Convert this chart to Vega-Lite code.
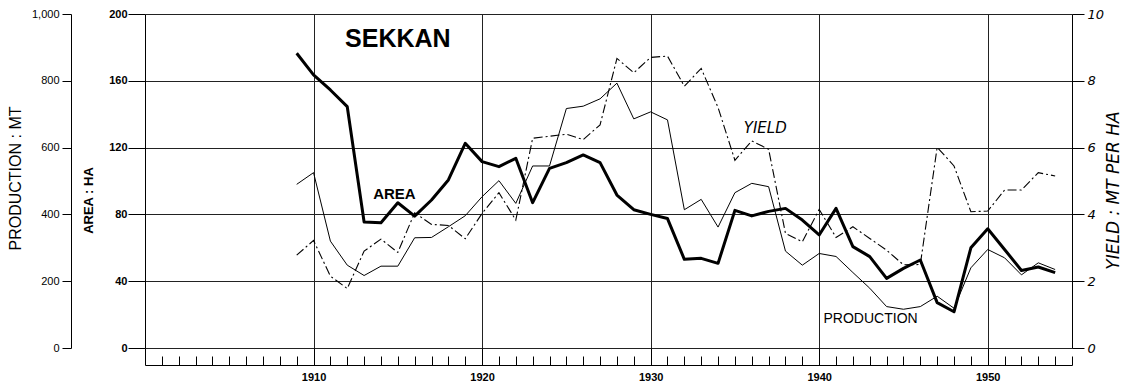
{
  "$schema": "https://vega.github.io/schema/vega-lite/v6.json",
  "width": 927,
  "height": 334,
  "autosize": "none",
  "padding": {"left": 145, "top": 14, "right": 58, "bottom": 35},
  "background": "white",
  "config": {
    "view": {"stroke": null},
    "font": "Liberation Sans",
    "axis": {
      "domainColor": "black",
      "tickColor": "black",
      "labelColor": "black",
      "titleColor": "black",
      "gridColor": "#222222",
      "labelFont": "Liberation Sans",
      "titleFont": "Liberation Sans"
    }
  },
  "datasets": {
    "sekkan": [
      {"year": 1909, "area": 176.5, "production": 490, "yield": 2.78},
      {"year": 1910, "area": 163.5, "production": 525, "yield": 3.22},
      {"year": 1911, "area": 154.5, "production": 320, "yield": 2.15},
      {"year": 1912, "area": 144.5, "production": 248, "yield": 1.78},
      {"year": 1913, "area": 75.5, "production": 217, "yield": 2.9},
      {"year": 1914, "area": 75, "production": 245, "yield": 3.26},
      {"year": 1915, "area": 87, "production": 245, "yield": 2.86},
      {"year": 1916, "area": 79, "production": 330, "yield": 4.05},
      {"year": 1917, "area": 88.6, "production": 331, "yield": 3.7},
      {"year": 1918, "area": 100.6, "production": 363, "yield": 3.67},
      {"year": 1919, "area": 122.6, "production": 396, "yield": 3.27},
      {"year": 1920, "area": 111.6, "production": 453, "yield": 4.03},
      {"year": 1921, "area": 108.6, "production": 501, "yield": 4.65},
      {"year": 1922, "area": 113.6, "production": 433, "yield": 3.83},
      {"year": 1923, "area": 87, "production": 545, "yield": 6.28},
      {"year": 1924, "area": 107.6, "production": 545, "yield": 6.34},
      {"year": 1925, "area": 111, "production": 717, "yield": 6.4},
      {"year": 1926, "area": 115.6, "production": 724, "yield": 6.24},
      {"year": 1927, "area": 111, "production": 746, "yield": 6.68},
      {"year": 1928, "area": 91.6, "production": 793, "yield": 8.67},
      {"year": 1929, "area": 82.8, "production": 686, "yield": 8.24},
      {"year": 1930, "area": 80, "production": 707, "yield": 8.7},
      {"year": 1931, "area": 77.5, "production": 683, "yield": 8.74},
      {"year": 1932, "area": 53.1, "production": 414, "yield": 7.84},
      {"year": 1933, "area": 53.7, "production": 445, "yield": 8.37},
      {"year": 1934, "area": 50.7, "production": 362, "yield": 7.2},
      {"year": 1935, "area": 82.4, "production": 465, "yield": 5.62},
      {"year": 1936, "area": 79.1, "production": 493, "yield": 6.2},
      {"year": 1937, "area": 81.8, "production": 483, "yield": 5.95},
      {"year": 1938, "area": 83.6, "production": 290, "yield": 3.43},
      {"year": 1939, "area": 76.6, "production": 248, "yield": 3.18},
      {"year": 1940, "area": 67.7, "production": 283, "yield": 4.15},
      {"year": 1941, "area": 83.6, "production": 274, "yield": 3.31},
      {"year": 1942, "area": 60.7, "production": 226, "yield": 3.63},
      {"year": 1943, "area": 54.7, "production": 179, "yield": 3.28},
      {"year": 1944, "area": 41.7, "production": 124, "yield": 2.93},
      {"year": 1945, "area": 47.7, "production": 116, "yield": 2.49},
      {"year": 1946, "area": 52.7, "production": 124, "yield": 2.5},
      {"year": 1947, "area": 27.2, "production": 155, "yield": 6.01},
      {"year": 1948, "area": 21.7, "production": 119, "yield": 5.45},
      {"year": 1949, "area": 60, "production": 240, "yield": 4.08},
      {"year": 1950, "area": 71.4, "production": 295, "yield": 4.1},
      {"year": 1951, "area": 59, "production": 270, "yield": 4.73},
      {"year": 1952, "area": 46.4, "production": 219, "yield": 4.73},
      {"year": 1953, "area": 48.5, "production": 255, "yield": 5.25},
      {"year": 1954, "area": 45.1, "production": 235, "yield": 5.15}
    ]
  },
  "layer": [
    {
      "data": {"name": "sekkan"},
      "mark": {"type": "line", "color": "black", "strokeWidth": 3, "strokeJoin": "round"},
      "encoding": {
        "x": {
          "field": "year", "type": "quantitative",
          "scale": {"domain": [1900, 1955], "nice": false, "zero": false},
          "axis": {
            "orient": "bottom",
            "offset": 17,
            "title": null,
            "tickCount": 100,
            "values": [1900,1901,1902,1903,1904,1905,1906,1907,1908,1909,1910,1911,1912,1913,1914,1915,1916,1917,1918,1919,1920,1921,1922,1923,1924,1925,1926,1927,1928,1929,1930,1931,1932,1933,1934,1935,1936,1937,1938,1939,1940,1941,1942,1943,1944,1945,1946,1947,1948,1949,1950,1951,1952,1953,1954,1955],
            "labelExpr": "datum.value % 10 === 0 && datum.value > 1900 ? '' + datum.value : ''",
            "labelOverlap": false,
            "labelFlush": false,
            "labelFontWeight": "bold",
            "labelFontSize": 11,
            "labelPadding": 23,
            "tickSize": {"condition": {"test": "datum.value % 10 === 0", "value": -17}, "value": -9},
            "tickWidth": 1,
            "domainWidth": 1,
            "grid": true,
            "gridWidth": 1,
            "gridOpacity": {"condition": {"test": "datum.value % 10 === 0 && datum.value > 1900", "value": 1}, "value": 0}
          }
        },
        "y": {
          "field": "area", "type": "quantitative",
          "scale": {"domain": [0, 200], "nice": false},
          "axis": {
            "orient": "left",
            "values": [0, 40, 80, 120, 160, 200],
            "format": ".0f",
            "tickSize": 17,
            "labelPadding": 1,
            "labelFontWeight": "bold",
            "labelFontSize": 11,
            "grid": true,
            "gridWidth": 1,
            "title": "AREA : HA",
            "titleFontWeight": "bold",
            "titleFontSize": 13,
            "titleX": -57,
            "titleY": 186,
            "titleBaseline": "middle",
            "titleAngle": 270
          }
        }
      }
    },
    {
      "data": {"name": "sekkan"},
      "mark": {"type": "line", "color": "black", "strokeWidth": 1},
      "encoding": {
        "x": {"field": "year", "type": "quantitative", "scale": {"domain": [1900, 1955], "nice": false, "zero": false}},
        "y": {
          "field": "production", "type": "quantitative",
          "scale": {"domain": [0, 1000], "nice": false},
          "axis": {
            "orient": "left",
            "offset": 74,
            "values": [0, 200, 400, 600, 800, 1000],
            "format": ",.0f",
            "tickSize": 9,
            "labelPadding": 3,
            "labelFontSize": 11,
            "grid": false,
            "title": "PRODUCTION : MT",
            "titleFontWeight": "normal",
            "titleFontSize": 16,
            "titleX": -56,
            "titleY": 164,
            "titleBaseline": "middle",
            "titleAngle": 270
          }
        }
      }
    },
    {
      "data": {"name": "sekkan"},
      "mark": {"type": "line", "color": "black", "strokeWidth": 1.1, "strokeDash": [9, 3, 2, 3]},
      "encoding": {
        "x": {"field": "year", "type": "quantitative", "scale": {"domain": [1900, 1955], "nice": false, "zero": false}},
        "y": {
          "field": "yield", "type": "quantitative",
          "scale": {"domain": [0, 10], "nice": false},
          "axis": {
            "orient": "right",
            "values": [0, 2, 4, 6, 8, 10],
            "format": ".0f",
            "tickSize": 12,
            "labelPadding": 3,
            "labelFontSize": 13,
            "labelFontStyle": "italic",
            "labelFont": "DejaVu Sans",
            "grid": false,
            "title": "YIELD : MT PER HA",
            "titleFont": "DejaVu Sans",
            "titleFontStyle": "italic",
            "titleFontWeight": "normal",
            "titleFontSize": 17,
            "titleX": 41,
            "titleY": 176,
            "titleBaseline": "middle",
            "titleAngle": 270
          }
        }
      }
    },
    {
      "data": {"values": [{"label": "SEKKAN", "year": 1915, "v": 185}]},
      "mark": {"type": "text", "font": "Liberation Sans", "fontWeight": "bold", "fontSize": 25, "color": "black", "align": "center", "baseline": "middle"},
      "encoding": {
        "x": {"field": "year", "type": "quantitative", "scale": {"domain": [1900, 1955], "nice": false, "zero": false}},
        "y": {"field": "v", "type": "quantitative", "scale": {"domain": [0, 200], "nice": false}, "axis": null},
        "text": {"field": "label"}
      }
    },
    {
      "data": {"values": [{"label": "AREA", "year": 1914.8, "v": 92.5}]},
      "mark": {"type": "text", "font": "Liberation Sans", "fontWeight": "bold", "fontSize": 15, "color": "black", "align": "center", "baseline": "middle"},
      "encoding": {
        "x": {"field": "year", "type": "quantitative", "scale": {"domain": [1900, 1955], "nice": false, "zero": false}},
        "y": {"field": "v", "type": "quantitative", "scale": {"domain": [0, 200], "nice": false}, "axis": null},
        "text": {"field": "label"}
      }
    },
    {
      "data": {"values": [{"label": "YIELD", "year": 1936.8, "v": 131.7}]},
      "mark": {"type": "text", "font": "DejaVu Sans", "fontStyle": "italic", "fontSize": 15, "color": "black", "align": "center", "baseline": "middle"},
      "encoding": {
        "x": {"field": "year", "type": "quantitative", "scale": {"domain": [1900, 1955], "nice": false, "zero": false}},
        "y": {"field": "v", "type": "quantitative", "scale": {"domain": [0, 200], "nice": false}, "axis": null},
        "text": {"field": "label"}
      }
    },
    {
      "data": {"values": [{"label": "PRODUCTION", "year": 1943.05, "v": 17.4}]},
      "mark": {"type": "text", "font": "Liberation Sans", "fontSize": 14, "color": "black", "align": "center", "baseline": "middle"},
      "encoding": {
        "x": {"field": "year", "type": "quantitative", "scale": {"domain": [1900, 1955], "nice": false, "zero": false}},
        "y": {"field": "v", "type": "quantitative", "scale": {"domain": [0, 200], "nice": false}, "axis": null},
        "text": {"field": "label"}
      }
    }
  ],
  "resolve": {"scale": {"y": "independent"}, "axis": {"y": "independent"}}
}
